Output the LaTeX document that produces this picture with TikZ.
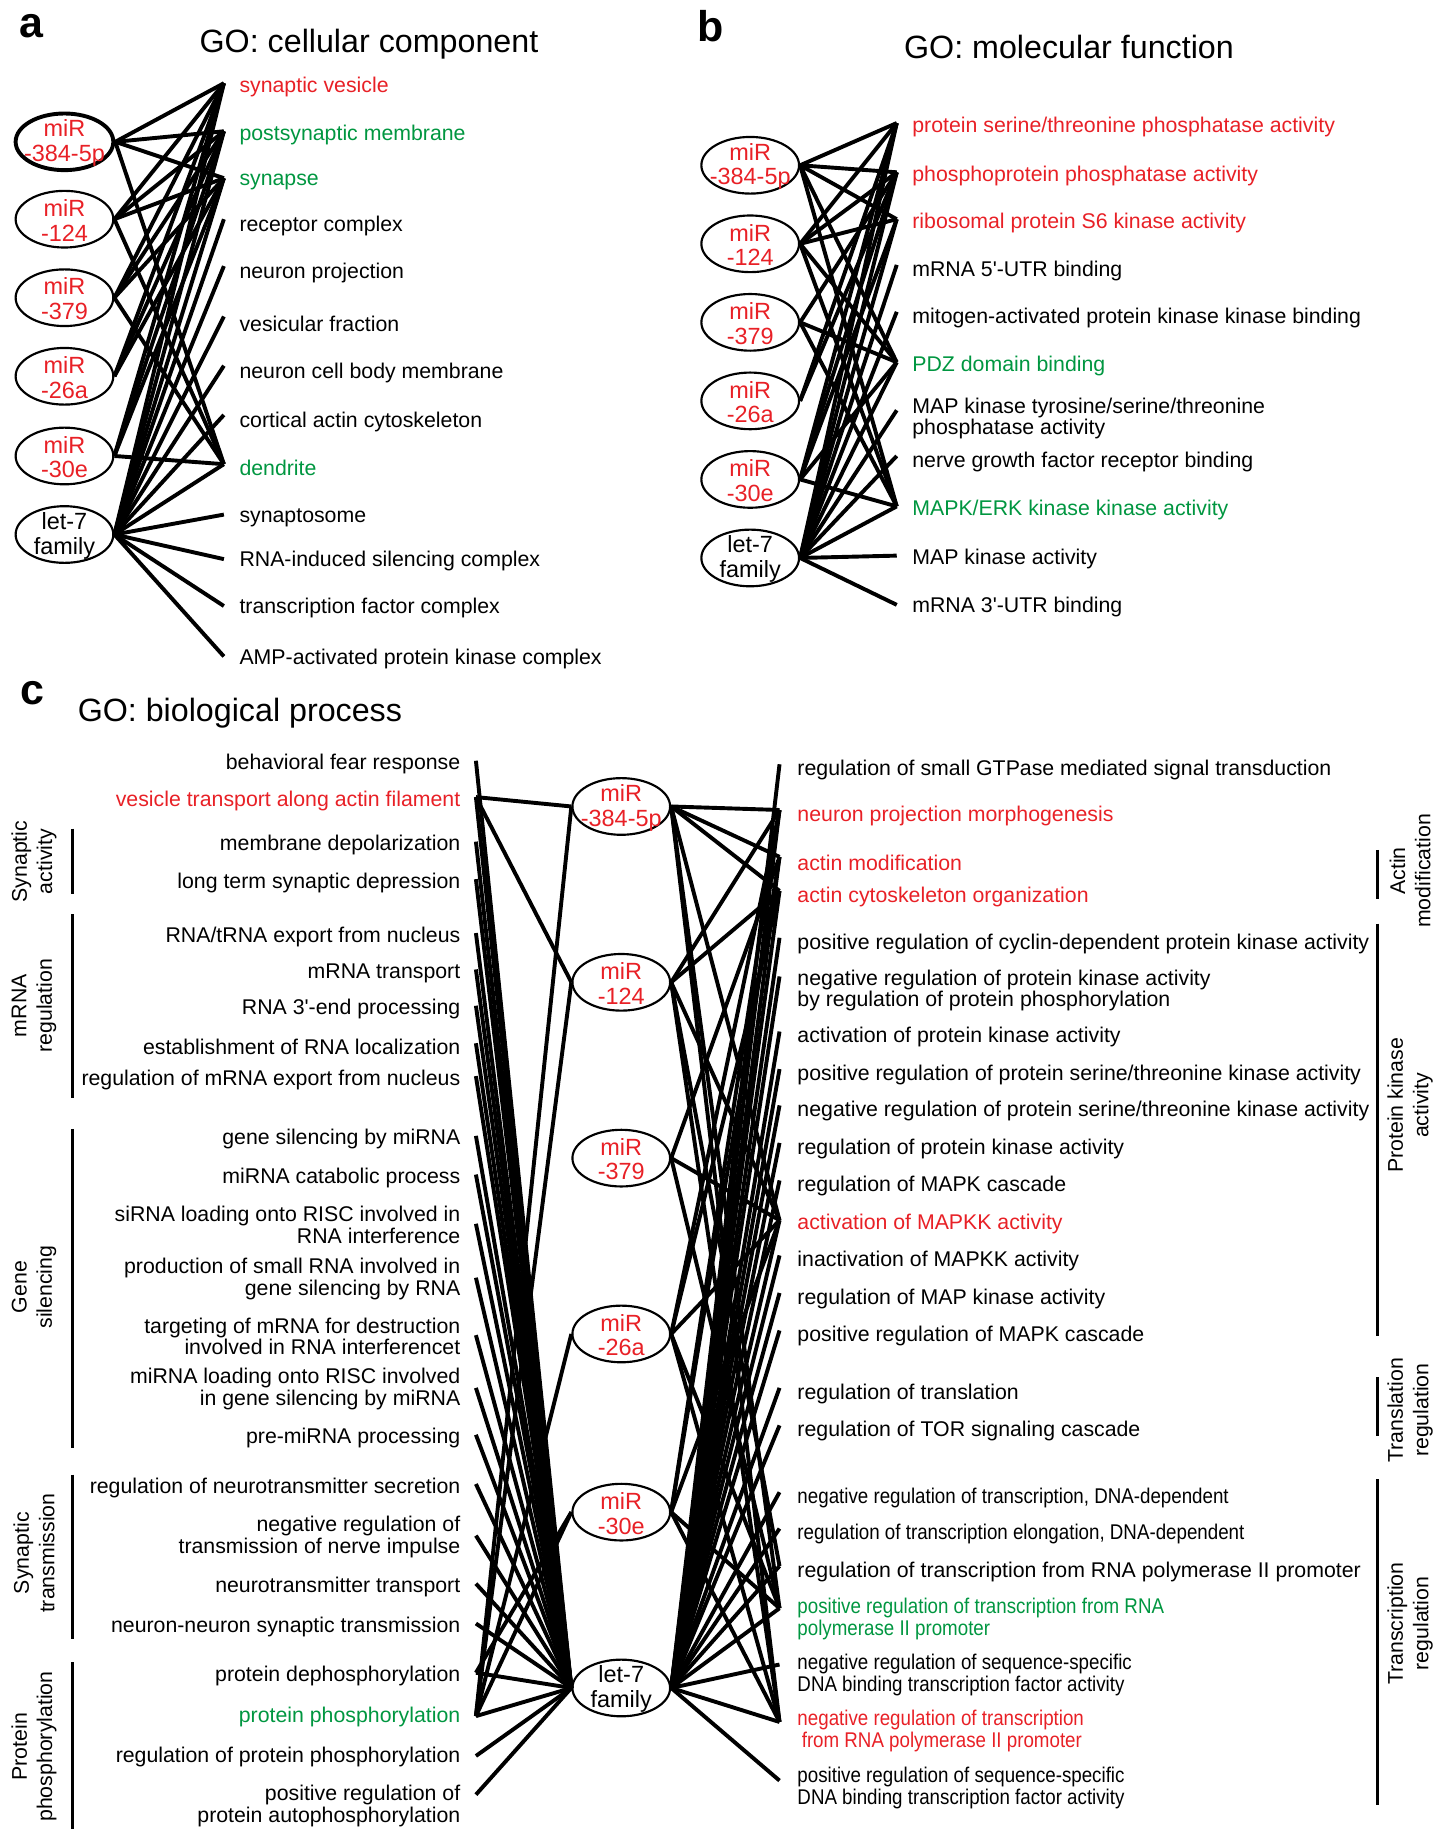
\documentclass[tikz,border=0pt]{standalone}
\usepackage{fontspec}
\usepackage{graphicx}
\setmainfont{Liberation Sans}
\usetikzlibrary{shapes.geometric}
\definecolor{gored}{RGB}{232,32,38}
\definecolor{gogreen}{RGB}{0,150,64}
\newcommand\cnd[1]{\scalebox{0.88}[1]{#1}}
\begin{document}
\begin{tikzpicture}[x=0.6pt,y=-0.6pt,
  term/.style={anchor=west, inner sep=0pt, yshift=-1.2pt, font=\fontsize{10.9}{10}\selectfont, align=left},
  termr/.style={anchor=east, inner sep=0pt, yshift=-1.2pt, font=\fontsize{10.9}{10}\selectfont, align=right},
  mirell/.style={draw, ellipse, line width=1.1pt, minimum width=50pt, minimum height=29pt, inner sep=0pt},
  mirtxt/.style={font=\fontsize{12}{12.6}\selectfont, align=center, inner sep=0pt, yshift=-0.6pt},
  link/.style={line width=2pt, line join=round},
  catbar/.style={line width=1.8pt},
  catlab/.style={rotate=90, align=center, inner sep=0pt, font=\fontsize{10.9}{13}\selectfont},
  title/.style={anchor=west, inner sep=0pt, yshift=-1pt, font=\fontsize{16.5}{18}\selectfont},
  letter/.style={inner sep=0pt, font=\fontsize{22}{24}\selectfont\bfseries}
]
\useasboundingbox (0,0) rectangle (1227,1568);

% ================= panel a =================
\node[letter] (la) at (27,22) {a};
\node[title] (ta) at (170,36) {GO: cellular component};

\node[mirell, line width=2pt] (A1) at (55,121) {};
\node[mirtxt, text=gored] (A1t) at (A1) {miR\\-384-5p};
\node[mirell] (A2) at (55,187) {};
\node[mirtxt, text=gored] (A2t) at (A2) {miR\\-124};
\node[mirell] (A3) at (55,254) {};
\node[mirtxt, text=gored] (A3t) at (A3) {miR\\-379};
\node[mirell] (A4) at (55,321) {};
\node[mirtxt, text=gored] (A4t) at (A4) {miR\\-26a};
\node[mirell] (A5) at (55,389) {};
\node[mirtxt, text=gored] (A5t) at (A5) {miR\\-30e};
\node[mirell] (A6) at (55,456) {};
\node[mirtxt] (A6t) at (A6) {let-7\\family};

\node[term, text=gored] (a1) at (204,72) {synaptic vesicle};
\node[term, text=gogreen] (a2) at (204,113) {postsynaptic membrane};
\node[term, text=gogreen] (a3) at (204,153) {synapse};
\node[term] (a4) at (204,191) {receptor complex};
\node[term] (a5) at (204,231) {neuron projection};
\node[term] (a6) at (204,274) {vesicular fraction};
\node[term] (a7) at (204,316) {neuron cell body membrane};
\node[term] (a8) at (204,358) {cortical actin cytoskeleton};
\node[term, text=gogreen] (a9) at (204,397) {dendrite};
\node[term] (a10) at (204,440) {synaptosome};
\node[term] (a11) at (204,477) {RNA-induced silencing complex};
\node[term] (a12) at (204,517) {transcription factor complex};
\node[term] (a13) at (204,560) {AMP-activated protein kinase complex};

\coordinate (pa1) at (191,71);
\coordinate (pa2) at (191,112);
\coordinate (pa3) at (191,152);
\coordinate (pa4) at (191,187);
\coordinate (pa5) at (191,227);
\coordinate (pa6) at (191,270);
\coordinate (pa7) at (191,312);
\coordinate (pa8) at (191,354);
\coordinate (pa9) at (191,396);
\coordinate (pa10) at (191,439);
\coordinate (pa11) at (191,477);
\coordinate (pa12) at (191,517);
\coordinate (pa13) at (191,560);

\foreach \t in {a1,a2,a3,a9} \draw[link] (A1.east) -- (p\t);
\foreach \t in {a1,a2,a3,a9} \draw[link] (A2.east) -- (p\t);
\foreach \t in {a1,a2,a3,a9} \draw[link] (A3.east) -- (p\t);
\foreach \t in {a1,a2,a3} \draw[link] (A4.east) -- (p\t);
\foreach \t in {a1,a2,a3,a9} \draw[link] (A5.east) -- (p\t);
\foreach \t in {a1,a2,a3,a4,a5,a6,a7,a8,a9,a10,a11,a12,a13} \draw[link] (A6.east) -- (p\t);

% ================= panel b =================
\node[letter] (lb) at (606,22) {b};
\node[title] (tb) at (771,38) {GO: molecular function};

\node[mirell] (B1) at (640,141) {};
\node[mirtxt, text=gored] (B1t) at (B1) {miR\\-384-5p};
\node[mirell] (B2) at (640,208) {};
\node[mirtxt, text=gored] (B2t) at (B2) {miR\\-124};
\node[mirell] (B3) at (640,275) {};
\node[mirtxt, text=gored] (B3t) at (B3) {miR\\-379};
\node[mirell] (B4) at (640,342) {};
\node[mirtxt, text=gored] (B4t) at (B4) {miR\\-26a};
\node[mirell] (B5) at (640,409) {};
\node[mirtxt, text=gored] (B5t) at (B5) {miR\\-30e};
\node[mirell] (B6) at (640,476) {};
\node[mirtxt] (B6t) at (B6) {let-7\\family};

\node[term, text=gored] (b1) at (778,106) {protein serine/threonine phosphatase activity};
\node[term, text=gored] (b2) at (778,148) {phosphoprotein phosphatase activity};
\node[term, text=gored] (b3) at (778,188) {ribosomal protein S6 kinase activity};
\node[term] (b4) at (778,229) {mRNA 5\textquotesingle-UTR binding};
\node[term] (b5) at (778,269) {mitogen-activated protein kinase kinase binding};
\node[term, text=gogreen] (b6) at (778,310) {PDZ domain binding};
\node[term] (b7) at (778,355) {MAP kinase tyrosine/serine/threonine\\phosphatase activity};
\node[term] (b8) at (778,392) {nerve growth factor receptor binding};
\node[term, text=gogreen] (b9) at (778,433) {MAPK/ERK kinase kinase activity};
\node[term] (b10) at (778,475) {MAP kinase activity};
\node[term] (b11) at (778,516) {mRNA 3\textquotesingle-UTR binding};

\coordinate (pb1) at (765,105);
\coordinate (pb2) at (765,147);
\coordinate (pb3) at (765,187);
\coordinate (pb4) at (765,226);
\coordinate (pb5) at (765,266);
\coordinate (pb6) at (765,309);
\coordinate (pb7) at (765,350);
\coordinate (pb8) at (765,389);
\coordinate (pb9) at (765,432);
\coordinate (pb10) at (765,474);
\coordinate (pb11) at (765,516);

\foreach \t in {b1,b2,b3,b6,b9} \draw[link] (B1.east) -- (p\t);
\foreach \t in {b1,b2,b3,b6,b9} \draw[link] (B2.east) -- (p\t);
\foreach \t in {b2,b6,b9} \draw[link] (B3.east) -- (p\t);
\foreach \t in {b1,b2} \draw[link] (B4.east) -- (p\t);
\foreach \t in {b1,b2,b3,b6,b9} \draw[link] (B5.east) -- (p\t);
\foreach \t in {b1,b2,b3,b4,b5,b6,b7,b8,b9,b10,b11} \draw[link] (B6.east) -- (p\t);

% ================= panel c =================
\node[letter] (lc) at (28,591) {c};
\node[title] (tc) at (66,607) {GO: biological process};

\node[mirell] (C1) at (530,688) {};
\node[mirtxt, text=gored] (C1t) at (C1) {miR\\-384-5p};
\node[mirell] (C2) at (530,838) {};
\node[mirtxt, text=gored] (C2t) at (C2) {miR\\-124};
\node[mirell] (C3) at (530,988) {};
\node[mirtxt, text=gored] (C3t) at (C3) {miR\\-379};
\node[mirell] (C4) at (530,1138) {};
\node[mirtxt, text=gored] (C4t) at (C4) {miR\\-26a};
\node[mirell] (C5) at (530,1290) {};
\node[mirtxt, text=gored] (C5t) at (C5) {miR\\-30e};
\node[mirell] (C6) at (530,1440) {};
\node[mirtxt] (C6t) at (C6) {let-7\\family};

% left terms
\node[termr] (L1) at (393,650) {behavioral fear response};
\node[termr, text=gored] (L2) at (393,681) {vesicle transport along actin filament};
\node[termr] (L3) at (393,719) {membrane depolarization};
\node[termr] (L4) at (393,751) {long term synaptic depression};
\node[termr] (L5) at (393,797) {RNA/tRNA export from nucleus};
\node[termr] (L6) at (393,828) {mRNA transport};
\node[termr] (L7) at (393,859) {RNA 3\textquotesingle-end processing};
\node[termr] (L8) at (393,891) {establishment of RNA localization};
\node[termr] (L9) at (393,919) {regulation of mRNA export from nucleus};
\node[termr] (L10) at (393,970) {gene silencing by miRNA};
\node[termr] (L11) at (393,1003) {miRNA catabolic process};
\node[termr] (L12) at (393,1043) {siRNA loading onto RISC involved in\\RNA interference};
\node[termr] (L13) at (393,1089) {production of small RNA involved in\\gene silencing by RNA};
\node[termr] (L14) at (393,1138) {targeting of mRNA for destruction\\involved in RNA interferencet};
\node[termr] (L15) at (393,1183) {miRNA loading onto RISC involved\\in gene silencing by miRNA};
\node[termr] (L16) at (393,1225) {pre-miRNA processing};
\node[termr] (L17) at (393,1267) {regulation of neurotransmitter secretion};
\node[termr] (L18) at (393,1309) {negative regulation of\\transmission of nerve impulse};
\node[termr] (L19) at (393,1352) {neurotransmitter transport};
\node[termr] (L20) at (393,1386) {neuron-neuron synaptic transmission};
\node[termr] (L21) at (393,1428) {protein dephosphorylation};
\node[termr, text=gogreen] (L22) at (393,1463) {protein phosphorylation};
\node[termr] (L23) at (393,1497) {regulation of protein phosphorylation};
\node[termr] (L24) at (393,1539) {positive regulation of\\protein autophosphorylation};

\coordinate (pL1) at (406,649);
\coordinate (pL2) at (406,680);
\coordinate (pL3) at (406,718);
\coordinate (pL4) at (406,750);
\coordinate (pL5) at (406,796);
\coordinate (pL6) at (406,827);
\coordinate (pL7) at (406,858);
\coordinate (pL8) at (406,890);
\coordinate (pL9) at (406,918);
\coordinate (pL10) at (406,969);
\coordinate (pL11) at (406,1002);
\coordinate (pL12) at (406,1044);
\coordinate (pL13) at (406,1090);
\coordinate (pL14) at (406,1139);
\coordinate (pL15) at (406,1184);
\coordinate (pL16) at (406,1224);
\coordinate (pL17) at (406,1266);
\coordinate (pL18) at (406,1310);
\coordinate (pL19) at (406,1351);
\coordinate (pL20) at (406,1385);
\coordinate (pL21) at (406,1427);
\coordinate (pL22) at (406,1464);
\coordinate (pL23) at (406,1498);
\coordinate (pL24) at (406,1531);

% right terms
\node[term] (R1) at (680,655) {regulation of small GTPase mediated signal transduction};
\node[term, text=gored] (R2) at (680,694) {neuron projection morphogenesis};
\node[term, text=gored] (R3) at (680,734) {actin modification};
\node[term, text=gored] (R4) at (680,763) {actin cytoskeleton organization};
\node[term] (R5) at (680,803) {positive regulation of cyclin-dependent protein kinase activity};
\node[term] (R6) at (680,843) {negative regulation of protein kinase activity\\by regulation of protein phosphorylation};
\node[term] (R7) at (680,883) {activation of protein kinase activity};
\node[term] (R8) at (680,915) {positive regulation of protein serine/threonine kinase activity};
\node[term] (R9) at (680,946) {negative regulation of protein serine/threonine kinase activity};
\node[term] (R10) at (680,978) {regulation of protein kinase activity};
\node[term] (R11) at (680,1010) {regulation of MAPK cascade};
\node[term, text=gored] (R12) at (680,1042) {activation of MAPKK activity};
\node[term] (R13) at (680,1074) {inactivation of MAPKK activity};
\node[term] (R14) at (680,1106) {regulation of MAP kinase activity};
\node[term] (R15) at (680,1138) {positive regulation of MAPK cascade};
\node[term] (R16) at (680,1187) {regulation of translation};
\node[term] (R17) at (680,1219) {regulation of TOR signaling cascade};
\node[term] (R18) at (680,1276) {\cnd{negative regulation of transcription, DNA-dependent}};
\node[term] (R19) at (680,1307) {\cnd{regulation of transcription elongation, DNA-dependent}};
\node[term] (R20) at (680,1339) {regulation of transcription from RNA polymerase II promoter};
\node[term, text=gogreen] (R21) at (680,1379) {\cnd{positive regulation of transcription from RNA}\\\cnd{polymerase II promoter}};
\node[term] (R22) at (680,1427) {\cnd{negative regulation of sequence-specific}\\\cnd{DNA binding transcription factor activity}};
\node[term, text=gored] (R23) at (680,1475) {\cnd{negative regulation of transcription}\\\cnd{\hspace{2.5pt}from RNA polymerase II promoter}};
\node[term] (R24) at (680,1523) {\cnd{positive regulation of sequence-specific}\\\cnd{DNA binding transcription factor activity}};

\coordinate (pR1) at (665,652);
\coordinate (pR2) at (665,691);
\coordinate (pR3) at (665,731);
\coordinate (pR4) at (665,760);
\coordinate (pR5) at (665,800);
\coordinate (pR6) at (665,833);
\coordinate (pR7) at (665,880);
\coordinate (pR8) at (665,912);
\coordinate (pR9) at (665,943);
\coordinate (pR10) at (665,975);
\coordinate (pR11) at (665,1007);
\coordinate (pR12) at (665,1041);
\coordinate (pR13) at (665,1071);
\coordinate (pR14) at (665,1103);
\coordinate (pR15) at (665,1135);
\coordinate (pR16) at (665,1184);
\coordinate (pR17) at (665,1216);
\coordinate (pR18) at (665,1273);
\coordinate (pR19) at (665,1304);
\coordinate (pR20) at (665,1336);
\coordinate (pR21) at (665,1372);
\coordinate (pR22) at (665,1420);
\coordinate (pR23) at (665,1469);
\coordinate (pR24) at (665,1519);

% left connectors
\foreach \t in {L2,L22} \draw[link] (C1.west) -- (p\t);
\foreach \t in {L2,L22} \draw[link] (C2.west) -- (p\t);
\foreach \t in {L22} \draw[link] (C4.west) -- (p\t);
\foreach \t in {L21,L22} \draw[link] (C5.west) -- (p\t);
\foreach \t in {L1,L2,L3,L4,L5,L6,L7,L8,L9,L10,L11,L12,L13,L14,L15,L16,L17,L18,L19,L20,L21,L22,L23,L24}
  \draw[link] (C6.west) -- (p\t);

% right connectors
\foreach \t in {R2,R3,R4,R12,R21,R23} \draw[link] (C1.east) -- (p\t);
\foreach \t in {R2,R4,R12,R20,R23} \draw[link] (C2.east) -- (p\t);
\foreach \t in {R3,R12,R21} \draw[link] (C3.east) -- (p\t);
\foreach \t in {R2,R4,R12,R21,R23} \draw[link] (C4.east) -- (p\t);
\foreach \t in {R2,R3,R12,R21,R23} \draw[link] (C5.east) -- (p\t);
\foreach \t in {R1,R2,R3,R4,R5,R6,R7,R8,R9,R10,R11,R12,R13,R14,R15,R16,R17,R18,R19,R20,R21,R22,R23,R24}
  \draw[link] (C6.east) -- (p\t);

% left categories
\draw[catbar] (62,707) -- (62,763);
\node[catlab] (k1) at (29,735) {Synaptic\\activity};
\draw[catbar] (62,780) -- (62,937);
\node[catlab] (k2) at (29,858) {mRNA\\regulation};
\draw[catbar] (62,963) -- (62,1235);
\node[catlab] (k3) at (29,1098) {Gene\\silencing};
\draw[catbar] (62,1258) -- (62,1398);
\node[catlab] (k4) at (29,1325) {Synaptic\\transmission};
\draw[catbar] (62,1418) -- (62,1560);
\node[catlab] (k5) at (29,1490) {Protein\\phosphorylation};

% right categories
\draw[catbar] (1175,725) -- (1175,767);
\node[catlab] (k6) at (1203,743) {Actin\\modification};
\draw[catbar] (1175,788) -- (1175,1140);
\node[catlab] (k7) at (1203,943) {Protein kinase\\activity};
\draw[catbar] (1175,1175) -- (1175,1225);
\node[catlab] (k8) at (1203,1203) {Translation\\regulation};
\draw[catbar] (1175,1262) -- (1175,1540);
\node[catlab] (k9) at (1203,1385) {Transcription\\regulation};
\end{tikzpicture}
\end{document}
